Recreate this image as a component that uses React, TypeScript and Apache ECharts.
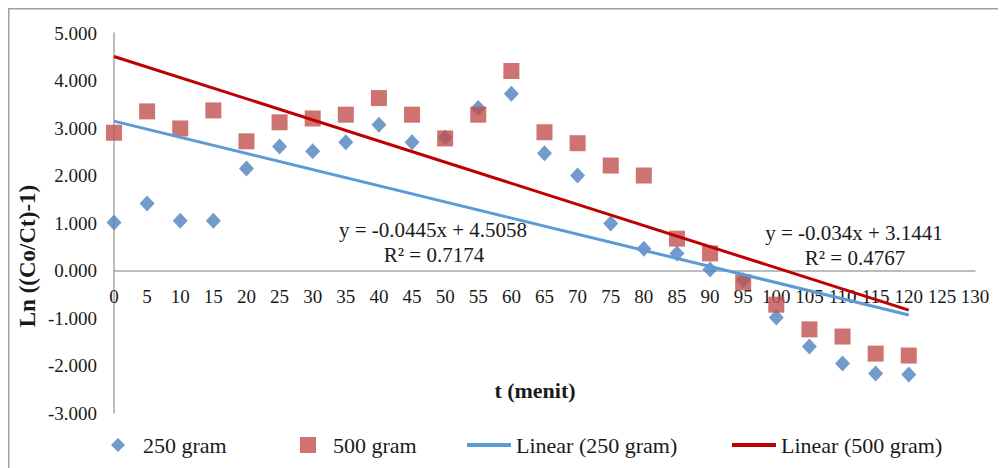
import React, { useEffect, useRef } from "react";
import * as echarts from "echarts";

const times = [0, 5, 10, 15, 20, 25, 30, 35, 40, 45, 50, 55, 60, 65, 70, 75, 80, 85, 90, 95, 100, 105, 110, 115, 120];
const values250 = [1.01, 1.41, 1.05, 1.05, 2.15, 2.61, 2.51, 2.7, 3.07, 2.7, 2.8, 3.42, 3.72, 2.47, 2.0, 0.99, 0.46, 0.36, 0.02, -0.2, -0.99, -1.6, -1.96, -2.17, -2.19];
const values500 = [2.9, 3.35, 2.99, 3.37, 2.72, 3.12, 3.2, 3.28, 3.63, 3.28, 2.78, 3.28, 4.2, 2.91, 2.68, 2.21, 2.0, 0.67, 0.36, -0.25, -0.72, -1.24, -1.39, -1.75, -1.79];
const trend250 = { slope: -0.034, intercept: 3.1441, r2: 0.4767 };
const trend500 = { slope: -0.0445, intercept: 4.5058, r2: 0.7174 };
const seriesNames = ["250 gram", "500 gram", "Linear (250 gram)", "Linear (500 gram)"];
const yMin = -3;
const yMax = 5;

const FONT = "'Liberation Serif', 'Times New Roman', serif";
const TEXT = "#1a1a1a";

function trendPoints(t: { slope: number; intercept: number }) {
  const x0 = times[0];
  const x1 = times[times.length - 1];
  return [
    [x0, t.intercept + t.slope * x0],
    [x1, t.intercept + t.slope * x1],
  ];
}

export default function App() {
  const ref = useRef<HTMLDivElement>(null);
  useEffect(() => {
    if (!ref.current) return;
    const chart = echarts.init(ref.current, undefined, { renderer: "svg" });
    const gridHeight = 380;
    const zeroOffset = (gridHeight * (0 - yMin)) / (yMax - yMin);
    const legendText = (pad: number) => ({
      fontFamily: FONT,
      fontSize: 22,
      color: TEXT,
      padding: [0, 0, 0, pad],
    });
    const textStyle = (size: number, bold = false) => ({
      fontFamily: FONT,
      fontSize: size,
      fontWeight: bold ? "bold" : "normal",
      fill: TEXT,
      align: "center",
      verticalAlign: "middle",
    });
    const legendTop = 426;
    chart.setOption({
      animation: false,
      grid: { left: 106, top: 25, width: 861, height: gridHeight, containLabel: false },
      xAxis: {
        type: "value",
        min: 0,
        max: 130,
        interval: 5,
        offset: -zeroOffset,
        axisLine: { show: true, onZero: false, lineStyle: { color: "#A6A6A6", width: 1.5 } },
        axisTick: { show: false },
        splitLine: { show: false },
        axisLabel: { margin: 16, fontFamily: FONT, fontSize: 19, color: TEXT },
      },
      yAxis: {
        type: "value",
        min: yMin,
        max: yMax,
        interval: 1,
        axisLine: { show: true, onZero: false, lineStyle: { color: "#A6A6A6", width: 1.5 } },
        axisTick: { show: false },
        splitLine: { show: false },
        axisLabel: {
          margin: 17,
          fontFamily: FONT,
          fontSize: 19,
          color: TEXT,
          formatter: (v: number) => v.toFixed(3),
        },
      },
      legend: [
        {
          data: [{ name: seriesNames[0], icon: "diamond" }],
          left: 103,
          top: legendTop,
          padding: 0,
          itemWidth: 14,
          itemHeight: 14,
          textStyle: legendText(13),
        },
        {
          data: [{ name: seriesNames[1], icon: "rect" }],
          left: 292,
          top: legendTop,
          padding: 0,
          itemWidth: 16,
          itemHeight: 16,
          textStyle: legendText(12),
        },
        {
          data: [{ name: seriesNames[2], icon: "rect" }],
          left: 459,
          top: legendTop,
          padding: 0,
          itemWidth: 44,
          itemHeight: 4,
          textStyle: legendText(0),
        },
        {
          data: [{ name: seriesNames[3], icon: "rect" }],
          left: 724,
          top: legendTop,
          padding: 0,
          itemWidth: 44,
          itemHeight: 4,
          textStyle: legendText(0),
        },
      ],
      series: [
        {
          name: seriesNames[0],
          type: "scatter",
          symbol: "diamond",
          symbolSize: [15, 16],
          itemStyle: { color: "#4F81BD" },
          data: times.map((t, i) => [t, values250[i]]),
          z: 2,
        },
        {
          name: seriesNames[1],
          type: "scatter",
          symbol: "rect",
          symbolSize: 16,
          itemStyle: { color: "#C0504D" },
          data: times.map((t, i) => [t, values500[i]]),
          z: 3,
        },
        {
          name: seriesNames[2],
          type: "line",
          symbol: "none",
          lineStyle: { color: "#5B9BD5", width: 3 },
          itemStyle: { color: "#5B9BD5" },
          data: trendPoints(trend250),
          z: 4,
        },
        {
          name: seriesNames[3],
          type: "line",
          symbol: "none",
          lineStyle: { color: "#C00000", width: 3 },
          itemStyle: { color: "#C00000" },
          data: trendPoints(trend500),
          z: 5,
        },
      ],
      graphic: [
        {
          type: "rect",
          shape: { x: 0.75, y: 0.75, width: 1020, height: 480 },
          style: { fill: "none", stroke: "#A0A0A0", lineWidth: 1.5 },
          silent: true,
        },
        {
          type: "text",
          x: 19,
          y: 248,
          rotation: Math.PI / 2,
          style: { text: "Ln ((Co/Ct)-1)", ...textStyle(23, true) },
        },
        {
          type: "text",
          x: 527,
          y: 382,
          style: { text: "t (menit)", ...textStyle(22, true) },
        },
        {
          type: "text",
          x: 425,
          y: 222,
          style: { text: `y = ${trend500.slope}x + ${trend500.intercept}`, ...textStyle(21) },
        },
        {
          type: "text",
          x: 426,
          y: 247,
          style: { text: `R² = ${trend500.r2}`, ...textStyle(21) },
        },
        {
          type: "text",
          x: 846,
          y: 225,
          style: { text: `y = ${trend250.slope}x + ${trend250.intercept}`, ...textStyle(21) },
        },
        {
          type: "text",
          x: 847,
          y: 250,
          style: { text: `R² = ${trend250.r2}`, ...textStyle(21) },
        },
      ],
    });
    return () => chart.dispose();
  }, []);
  return <div ref={ref} style={{ width: 998, height: 460 }} />;
}
